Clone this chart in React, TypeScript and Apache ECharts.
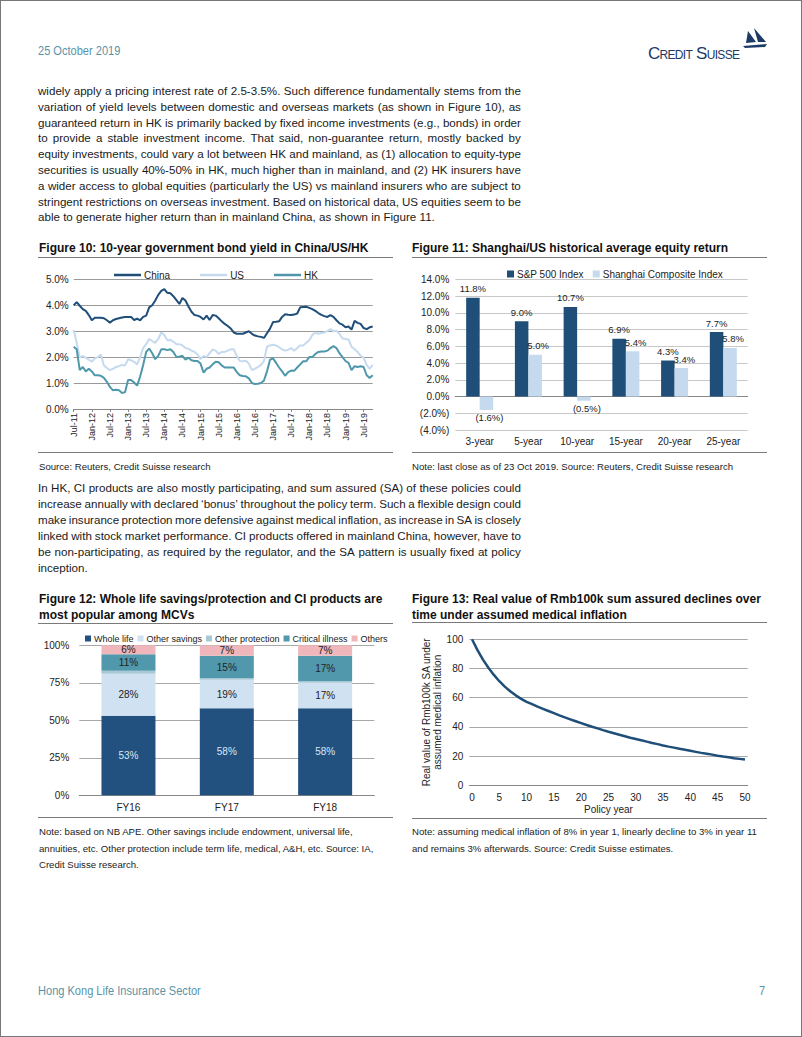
import React, { useEffect, useRef } from "react";
import * as echarts from "echarts";

const NARROW = '"Liberation Sans Narrow", "Arial Narrow", "Liberation Sans", Arial, sans-serif';
const SANS = '"Liberation Sans", Arial, Helvetica, sans-serif';

// ---------- Figure 10 data (monthly, Jul-11 .. Oct-19) ----------
const MONTHS = ["Jan", "Feb", "Mar", "Apr", "May", "Jun", "Jul", "Aug", "Sep", "Oct", "Nov", "Dec"];
const chinaYield = [
  4.0, 4.12, 3.98, 3.85, 3.78, 3.62, 3.42, 3.52, 3.52, 3.52,
  3.5, 3.42, 3.33, 3.42, 3.47, 3.5, 3.53, 3.55, 3.55, 3.55,
  3.43, 3.48, 3.42, 3.55, 3.6, 3.92, 4.0, 4.18, 4.4, 4.55,
  4.62, 4.48, 4.46, 4.35, 4.2, 4.05, 4.28, 4.18, 3.95, 3.75,
  3.62, 3.6, 3.55, 3.45, 3.6, 3.43, 3.62, 3.6, 3.5, 3.38,
  3.28, 3.2, 3.1, 2.95, 2.9, 2.9, 2.9, 2.95, 3.0, 2.9,
  2.83, 2.8, 2.78, 2.74, 2.92, 3.1, 3.35, 3.36, 3.38, 3.55,
  3.65, 3.63, 3.62, 3.64, 3.68, 3.92, 3.93, 3.94, 3.9, 3.85,
  3.78, 3.7, 3.63, 3.58, 3.55, 3.62, 3.55, 3.42, 3.3, 3.25,
  3.15, 3.18, 3.06, 3.4, 3.32, 3.28, 3.12, 3.08, 3.15, 3.18,
];
const usYield = [
  3.05, 2.55, 1.98, 2.04, 1.98, 1.9, 1.82, 1.95, 2.0, 2.1,
  1.68, 1.58, 1.5, 1.55, 1.62, 1.65, 1.7, 1.68, 1.92, 1.88,
  1.82, 1.72, 2.0, 2.35, 2.5, 2.7, 2.62, 2.55, 2.7, 2.95,
  2.85, 2.65, 2.66, 2.6, 2.5, 2.5, 2.45, 2.35, 2.32, 2.25,
  2.2, 2.1, 1.92, 2.05, 2.0, 2.15, 2.3, 2.25, 2.12, 2.2,
  2.2, 2.25, 2.3, 2.3, 2.05, 1.85, 1.84, 1.86, 1.75, 1.5,
  1.55, 1.62, 1.7, 1.85, 2.4, 2.45, 2.48, 2.45, 2.38, 2.3,
  2.25, 2.28, 2.35, 2.25, 2.35, 2.45, 2.45, 2.55, 2.65, 2.85,
  2.95, 2.9, 2.93, 2.95, 3.0, 3.08, 3.0, 3.02, 2.9, 2.72,
  2.7, 2.68, 2.4, 2.3, 2.2, 2.05, 1.97, 1.7, 1.55, 1.7,
];
const hkYield = [
  2.4, 2.3, 1.5, 1.62, 1.45, 1.55, 1.45, 1.3, 1.3, 1.28,
  1.2, 1.05, 0.85, 0.72, 0.74, 0.72, 0.62, 0.65, 1.12, 1.12,
  1.02, 0.9, 1.25, 1.7, 2.2, 2.33, 2.15, 1.92, 2.05, 2.3,
  2.3, 2.27, 2.3, 2.2, 2.0, 2.02, 2.05, 1.9, 1.98, 1.88,
  1.85, 1.85, 1.75, 1.4, 1.55, 1.6, 1.72, 1.82, 1.8, 1.68,
  1.6, 1.6, 1.6, 1.6, 1.42, 1.3, 1.27, 1.26, 1.18, 1.0,
  0.96, 0.97, 1.0, 1.1, 1.45, 1.9, 1.95, 1.78, 1.6, 1.45,
  1.28, 1.42, 1.48, 1.47, 1.6, 1.72, 1.84, 1.84, 2.0, 2.0,
  2.12, 2.2, 2.22, 2.22, 2.25, 2.35, 2.42, 2.35, 2.15, 2.0,
  1.85, 1.78, 1.5, 1.65, 1.62, 1.65, 1.62, 1.3, 1.2, 1.3,
];
const yieldDates = chinaYield.map((_, i) => {
  const m = 6 + i;
  return `${MONTHS[m % 12]}-${11 + Math.floor(m / 12)}`;
});

// ---------- Figure 11 data ----------
const periods = ["3-year", "5-year", "10-year", "15-year", "20-year", "25-year"];
const sp500Return = [11.8, 9.0, 10.7, 6.9, 4.3, 7.7];
const shanghaiReturn = [-1.6, 5.0, -0.5, 5.4, 3.4, 5.8];

// ---------- Figure 12 data ----------
const fiscalYears = ["FY16", "FY17", "FY18"];
const wholeLife = [53, 58, 58];
const otherSavings = [28, 19, 17];
const otherProtection = [2, 1, 1];
const criticalIllness = [11, 15, 17];
const othersShare = [6, 7, 7];

// ---------- Figure 13 data ----------
const policyYears = Array.from({ length: 51 }, (_, i) => String(i));
const realValue = [
  100, 92.6, 86.1, 80.5, 75.6, 71.3, 67.6, 64.4, 61.6, 59.2,
  57.2, 55.6, 53.9, 52.4, 50.9, 49.4, 47.9, 46.5, 45.2, 43.9,
  42.6, 41.3, 40.1, 39.0, 37.8, 36.7, 35.7, 34.6, 33.6, 32.6,
  31.7, 30.8, 29.9, 29.0, 28.2, 27.3, 26.5, 25.8, 25.0, 24.3,
  23.6, 22.9, 22.2, 21.6, 21.0, 20.3, 19.7, 19.2, 18.6, 18.1,
  17.6,
];

const NAVY = "#1f4e79";
const LIGHT = "#c5daee";
const TEAL = "#4f98ab";
const TXT = "#222";
const FS = 10;

const pct1 = (v: number) => (v < 0 ? `(${Math.abs(v).toFixed(1)}%)` : `${v.toFixed(1)}%`);

function Chart({ option, style }: { option: any; style: React.CSSProperties }) {
  const ref = useRef<HTMLDivElement>(null);
  useEffect(() => {
    const chart = echarts.init(ref.current!, undefined, { renderer: "svg" });
    chart.setOption(option);
    return () => chart.dispose();
  }, []);
  return <div ref={ref} style={{ position: "absolute", ...style }} />;
}

const fig10Option = {
  animation: false,
  textStyle: { fontFamily: NARROW },
  legend: {
    top: 6, left: 78, icon: "rect", itemWidth: 27, itemHeight: 2.5, itemGap: 30,
    textStyle: { fontSize: FS, color: TXT, fontFamily: NARROW, padding: [0, 0, 0, -2] },
    data: ["China", "US", "HK"],
  },
  grid: { left: 42.7, top: 20.3, width: 299, height: 129.7, containLabel: false, outerBoundsMode: "none" },
  xAxis: {
    type: "category", data: yieldDates, boundaryGap: false,
    axisLine: { lineStyle: { color: "#888" } },
    axisTick: { interval: 5, length: 3, lineStyle: { color: "#888" } },
    axisLabel: { rotate: 90, interval: 5, fontSize: 9, color: TXT, margin: 4, fontFamily: NARROW },
  },
  yAxis: {
    type: "value", min: 0, max: 5, interval: 1,
    axisLabel: { formatter: (v: number) => v.toFixed(1) + "%", fontSize: FS, color: TXT, margin: 5, fontFamily: NARROW },
    splitLine: { lineStyle: { color: "#9a9a9a" } },
    axisLine: { show: false }, axisTick: { show: false },
  },
  series: [
    { name: "China", type: "line", data: chinaYield, showSymbol: false, lineStyle: { color: NAVY, width: 2 }, itemStyle: { color: NAVY } },
    { name: "US", type: "line", data: usYield, showSymbol: false, lineStyle: { color: LIGHT, width: 2 }, itemStyle: { color: LIGHT } },
    { name: "HK", type: "line", data: hkYield, showSymbol: false, lineStyle: { color: TEAL, width: 2 }, itemStyle: { color: TEAL } },
  ],
};

const barLabel = {
  show: true, position: "top", distance: 4, fontSize: 9.5, color: TXT, fontFamily: NARROW,
  formatter: (p: any) => pct1(p.value),
};

const fig11Option = {
  animation: false,
  textStyle: { fontFamily: NARROW },
  legend: {
    top: 5, left: 96, icon: "rect", itemWidth: 7, itemHeight: 7, itemGap: 9,
    textStyle: { fontSize: FS, color: TXT, fontFamily: NARROW, padding: [0, 0, 0, -2] },
    data: ["S&P 500 Index", "Shanghai Composite Index"],
  },
  grid: { left: 49.3, top: 20.3, width: 292.4, height: 150.7, containLabel: false, outerBoundsMode: "none" },
  xAxis: {
    type: "category", data: periods,
    axisLine: { onZero: true, lineStyle: { color: "#888" } },
    axisTick: { length: 4, lineStyle: { color: "#888" } },
    axisLabel: { fontSize: FS, color: TXT, margin: 6, fontFamily: NARROW },
  },
  yAxis: {
    type: "value", min: -4, max: 14, interval: 2,
    axisLabel: { formatter: (v: number) => pct1(v), fontSize: FS, color: TXT, margin: 6, fontFamily: NARROW },
    splitLine: { lineStyle: { color: "#c8c8c8" } },
    axisLine: { show: false }, axisTick: { show: false },
  },
  series: [
    { name: "S&P 500 Index", type: "bar", data: sp500Return, barWidth: 13.5, barGap: "0%", itemStyle: { color: NAVY }, label: barLabel },
    {
      name: "Shanghai Composite Index", type: "bar", barWidth: 13.5,
      data: shanghaiReturn.map((v) => (v < 0 ? { value: v, label: { position: "bottom", distance: 3 } } : v)),
      itemStyle: { color: LIGHT }, label: { ...barLabel, offset: [3, 0] },
    },
  ],
};

const stackLabel = (color: string) => ({
  show: true, position: "inside", fontSize: FS, color, fontFamily: NARROW,
  formatter: (p: any) => `${p.value}%`,
});

const fig12Option = {
  animation: false,
  textStyle: { fontFamily: NARROW },
  legend: {
    top: 3, left: 49, icon: "rect", itemWidth: 6, itemHeight: 6, itemGap: 4, width: 360,
    textStyle: { fontSize: 9, color: TXT, fontFamily: NARROW, padding: [0, 0, 0, -2] },
    data: ["Whole life", "Other savings", "Other protection", "Critical illness", "Others"],
  },
  grid: { left: 48.3, top: 19.3, width: 295, height: 150, containLabel: false, outerBoundsMode: "none" },
  xAxis: {
    type: "category", data: fiscalYears,
    axisLine: { lineStyle: { color: "#888" } },
    axisTick: { length: 4, lineStyle: { color: "#888" } },
    axisLabel: { fontSize: FS, color: TXT, margin: 7, fontFamily: NARROW },
  },
  yAxis: {
    type: "value", min: 0, max: 100, interval: 25,
    axisLabel: { formatter: (v: number) => v + "%", fontSize: FS, color: TXT, margin: 10, fontFamily: NARROW },
    splitLine: { lineStyle: { color: "#a8a8a8" } },
    axisLine: { show: false }, axisTick: { show: false },
  },
  series: [
    { name: "Whole life", type: "bar", stack: "t", barWidth: 54, data: wholeLife, itemStyle: { color: "#22507f" }, label: stackLabel("#d8e7f6") },
    { name: "Other savings", type: "bar", stack: "t", data: otherSavings, itemStyle: { color: "#d0e1f1" }, label: stackLabel(TXT) },
    { name: "Other protection", type: "bar", stack: "t", data: otherProtection, itemStyle: { color: "#a8c8d6" } },
    { name: "Critical illness", type: "bar", stack: "t", data: criticalIllness, itemStyle: { color: "#5198ad" }, label: stackLabel(TXT) },
    { name: "Others", type: "bar", stack: "t", data: othersShare, itemStyle: { color: "#efb7bb" }, label: stackLabel(TXT) },
  ],
};

const fig13Option = {
  animation: false,
  textStyle: { fontFamily: NARROW },
  grid: { left: 63.3, top: 13.3, width: 278.4, height: 146, containLabel: false, outerBoundsMode: "none" },
  xAxis: {
    type: "category", data: policyYears, boundaryGap: true,
    name: "Policy year", nameLocation: "middle", nameGap: 19, nameMoveOverlap: false,
    nameTextStyle: { fontSize: FS, color: TXT, fontFamily: NARROW },
    axisLine: { lineStyle: { color: "#888" } },
    axisTick: { show: false },
    axisLabel: { interval: 4, fontSize: FS, color: TXT, margin: 7, fontFamily: NARROW },
  },
  yAxis: {
    type: "value", min: 0, max: 100, interval: 20,
    name: "Real value of Rmb100k SA under\nassumed medical inflation",
    nameLocation: "middle", nameRotate: 90, nameGap: 26, nameMoveOverlap: false,
    nameTextStyle: { fontSize: FS, lineHeight: 11, color: TXT, fontFamily: NARROW },
    axisLabel: { fontSize: FS, color: TXT, margin: 6, fontFamily: NARROW },
    splitLine: { lineStyle: { color: "#a8a8a8" } },
    axisLine: { show: false }, axisTick: { show: false },
  },
  series: [
    { type: "line", data: realValue, showSymbol: false, lineStyle: { color: NAVY, width: 2.5 } },
  ],
};

const para1 = [
  "widely apply a pricing interest rate of 2.5-3.5%. Such difference fundamentally stems from the",
  "variation of yield levels between domestic and overseas markets (as shown in Figure 10), as",
  "guaranteed return in HK is primarily backed by fixed income investments (e.g., bonds) in order",
  "to provide a stable investment income. That said, non-guarantee return, mostly backed by",
  "equity investments, could vary a lot between HK and mainland, as (1) allocation to equity-type",
  "securities is usually 40%-50% in HK, much higher than in mainland, and (2) HK insurers have",
  "a wider access to global equities (particularly the US) vs mainland insurers who are subject to",
  "stringent restrictions on overseas investment. Based on historical data, US equities seem to be",
  "able to generate higher return than in mainland China, as shown in Figure 11.",
];
const para2 = [
  "In HK, CI products are also mostly participating, and sum assured (SA) of these policies could",
  "increase annually with declared \u2018bonus\u2019 throughout the policy term. Such a flexible design could",
  "make insurance protection more defensive against medical inflation, as increase in SA is closely",
  "linked with stock market performance. CI products offered in mainland China, however, have to",
  "be non-participating, as required by the regulator, and the SA pattern is usually fixed at policy",
  "inception.",
];

function Paragraph({ lines, left, top, width, lh }: { lines: string[]; left: number; top: number; width: number; lh: number }) {
  return (
    <div style={{ position: "absolute", left, top, width, fontFamily: SANS, fontSize: 11.6, color: "#1a1a1a" }}>
      {lines.map((ln, i) => {
        const last = i === lines.length - 1;
        if (last) return <div key={i} style={{ height: lh, lineHeight: `${lh}px`, whiteSpace: "nowrap" }}>{ln}</div>;
        return (
          <div key={i} style={{ height: lh, lineHeight: `${lh}px`, display: "flex", justifyContent: "space-between", whiteSpace: "nowrap" }}>
            {ln.split(" ").map((w, j) => <span key={j}>{w}</span>)}
          </div>
        );
      })}
    </div>
  );
}

function Rule({ left, top, width }: { left: number; top: number; width: number }) {
  return <div style={{ position: "absolute", left, top, width, height: 0, borderTop: "1px solid #7a7a7a" }} />;
}

function Title({ left, top, lines }: { left: number; top: number; lines: string[] }) {
  return (
    <div style={{ position: "absolute", left, top, fontFamily: SANS, fontWeight: "bold", fontSize: 12, color: "#111", lineHeight: "15.5px", whiteSpace: "nowrap" }}>
      {lines.map((l, i) => <div key={i}>{l}</div>)}
    </div>
  );
}

function Note({ left, top, lines }: { left: number; top: number; lines: string[] }) {
  return (
    <div style={{ position: "absolute", left, top, fontFamily: SANS, fontSize: 9.6, color: "#222", lineHeight: "16.5px", whiteSpace: "nowrap" }}>
      {lines.map((l, i) => <div key={i}>{l}</div>)}
    </div>
  );
}

const runStyle: React.CSSProperties = {
  position: "absolute", fontFamily: SANS, fontSize: 13, color: "#5b93a6",
  transform: "scaleX(0.85)", transformOrigin: "left center", whiteSpace: "nowrap",
};

export default function App() {
  return (
    <div style={{ position: "absolute", left: 0, top: 0, width: 802, height: 1037, background: "#fff", border: "1px solid #777", boxSizing: "border-box", overflow: "hidden" }}>
      <div style={{ ...runStyle, left: 37, top: 42 }}>25 October 2019</div>
      <div style={{ position: "absolute", left: 647, top: 43, fontFamily: SANS, fontSize: 17, fontVariant: "small-caps", color: "#1b3a66", letterSpacing: -0.7, whiteSpace: "nowrap" }}>Credit Suisse</div>
      <svg style={{ position: "absolute", left: 740, top: 27 }} width="26" height="22" viewBox="0 0 26 22">
        <polygon points="7,3 15,14 5,15" fill="#1b3a66" />
        <polygon points="13,0 25,14 17,14" fill="#1b3a66" />
        <polygon points="2,18 26,16 24,19 4,20" fill="#1b3a66" />
      </svg>

      <Paragraph lines={para1} left={37} top={82} width={483} lh={15.8} />

      <Title left={38} top={240} lines={["Figure 10: 10-year government bond yield in China/US/HK"]} />
      <Rule left={37} top={256} width={355} />
      <Chart option={fig10Option} style={{ left: 30, top: 258, width: 370, height: 190 }} />
      <Rule left={37} top={451} width={355} />
      <Note left={38} top={458} lines={["Source: Reuters, Credit Suisse research"]} />

      <Title left={411} top={240} lines={["Figure 11: Shanghai/US historical average equity return"]} />
      <Rule left={411} top={256} width={355} />
      <Chart option={fig11Option} style={{ left: 405, top: 258, width: 380, height: 190 }} />
      <Rule left={411} top={451} width={355} />
      <Note left={411} top={458} lines={["Note: last close as of 23 Oct 2019. Source: Reuters, Credit Suisse research"]} />

      <Paragraph lines={para2} left={37} top={479} width={483} lh={16} />

      <Title left={38} top={591} lines={["Figure 12: Whole life savings/protection and CI products are", "most popular among MCVs"]} />
      <Rule left={37} top={622} width={355} />
      <Chart option={fig12Option} style={{ left: 30, top: 625, width: 370, height: 190 }} />
      <Rule left={37} top={816} width={355} />
      <Note left={38} top={823} lines={["Note: based on NB APE. Other savings include endowment, universal life,", "annuities, etc. Other protection include term life, medical, A&H, etc. Source: IA,", "Credit Suisse research."]} />

      <Title left={411} top={591} lines={["Figure 13: Real value of Rmb100k sum assured declines over", "time under assumed medical inflation"]} />
      <Rule left={411} top={621} width={355} />
      <Chart option={fig13Option} style={{ left: 405, top: 625, width: 380, height: 190 }} />
      <Rule left={411} top={817} width={355} />
      <Note left={411} top={823} lines={["Note: assuming medical inflation of 8% in year 1, linearly decline to 3% in year 11", "and remains 3% afterwards. Source: Credit Suisse estimates."]} />

      <div style={{ ...runStyle, left: 37, top: 982 }}>Hong Kong Life Insurance Sector</div>
      <div style={{ ...runStyle, left: 758, top: 982 }}>7</div>
    </div>
  );
}
